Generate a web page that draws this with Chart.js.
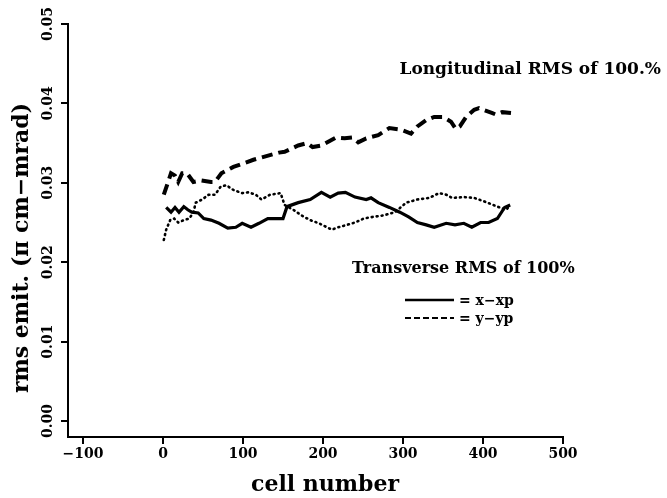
<!DOCTYPE html>
<html>
<head>
<meta charset="utf-8">
<script src="https://cdn.jsdelivr.net/npm/chart.js@4"></script>
<style>
  html, body { margin: 0; padding: 0; background: #fff; }
  #wrap { width: 667px; height: 498px; }
</style>
</head>
<body>
<div id="wrap"><canvas id="c"></canvas></div>
<script>
// longitudinal RMS emittance (dashed)
var cellsL = [1, 10, 15, 19, 24, 30, 38, 47, 60, 65, 73, 88, 102, 113, 127, 145, 152, 169, 180, 187, 198, 216, 227, 237, 244, 254, 269, 283, 297, 310, 318, 329, 339, 350, 360, 366, 371, 379, 389, 395, 400, 411, 416, 424, 435];
var longL = [0.0285, 0.0312, 0.0309, 0.0301, 0.0312, 0.0312, 0.0301, 0.0303, 0.0301, 0.0301, 0.0312, 0.0320, 0.0325, 0.0329, 0.0333, 0.0338, 0.0339, 0.0347, 0.0350, 0.0345, 0.0347, 0.0357, 0.0356, 0.0357, 0.0351, 0.0356, 0.0360, 0.0369, 0.0367, 0.0362, 0.0371, 0.0379, 0.0383, 0.0383, 0.0377, 0.0368, 0.0371, 0.0383, 0.0392, 0.0394, 0.0392, 0.0388, 0.0386, 0.0389, 0.0388];

// transverse x-xp (solid)
var cellsX = [4, 10, 15, 20, 26, 31, 36, 44, 51, 60, 70, 81, 91, 99, 110, 120, 131, 145, 150, 155, 169, 184, 198, 209, 219, 228, 240, 254, 260, 269, 283, 296, 307, 318, 329, 339, 354, 365, 376, 386, 397, 407, 418, 427, 434];
var xxp = [0.0269, 0.0263, 0.0269, 0.0263, 0.0270, 0.0266, 0.0263, 0.0262, 0.0255, 0.0253, 0.0249, 0.0243, 0.0244, 0.0249, 0.0244, 0.0249, 0.0255, 0.0255, 0.0255, 0.0270, 0.0275, 0.0279, 0.0288, 0.0282, 0.0287, 0.0288, 0.0282, 0.0279, 0.0281, 0.0275, 0.0269, 0.0263, 0.0257, 0.0250, 0.0247, 0.0244, 0.0249, 0.0247, 0.0249, 0.0244, 0.0250, 0.0250, 0.0255, 0.0269, 0.0272];

// transverse y-yp (dotted)
var cellsY = [1, 4, 9, 14, 19, 26, 33, 38, 41, 49, 57, 65, 72, 79, 88, 99, 107, 116, 123, 134, 147, 152, 163, 173, 184, 195, 211, 219, 230, 240, 251, 262, 276, 290, 304, 318, 333, 345, 354, 361, 376, 389, 403, 418, 429, 434];
var yyp = [0.0228, 0.0241, 0.0253, 0.0255, 0.0250, 0.0253, 0.0255, 0.0263, 0.0275, 0.0279, 0.0285, 0.0285, 0.0295, 0.0297, 0.0291, 0.0287, 0.0288, 0.0285, 0.0279, 0.0285, 0.0287, 0.0272, 0.0266, 0.0259, 0.0253, 0.0249, 0.0241, 0.0244, 0.0247, 0.0250, 0.0255, 0.0257, 0.0259, 0.0263, 0.0275, 0.0279, 0.0281, 0.0287, 0.0285, 0.0281, 0.0282, 0.0281, 0.0276, 0.0270, 0.0266, 0.0272];

var xTicks = [-100, 0, 100, 200, 300, 400, 500];
var xTickLabels = ['\u2212100', '0', '100', '200', '300', '400', '500'];
var yTicks = [0, 0.01, 0.02, 0.03, 0.04, 0.05];
var yTickLabels = ['0.00', '0.01', '0.02', '0.03', '0.04', '0.05'];

function pts(xs, ys) {
    return xs.map(function (x, i) { return { x: x, y: ys[i] }; });
}

var SERIF = '"DejaVu Serif", "Liberation Serif", serif';

// texts drawn on top: rotated y labels, titles, notes and the little key
var notes = {
    id: 'notes',
    afterDraw: function (chart) {
        var c = chart.ctx, ys = chart.scales.y;
        c.save();
        c.fillStyle = '#000';
        c.strokeStyle = '#000';

        c.font = 'bold 14px ' + SERIF;
        c.textAlign = 'center';
        c.textBaseline = 'alphabetic';
        yTicks.forEach(function (v, i) {
            var py = ys.getPixelForValue(v);
            c.save();
            c.translate(52, py);
            c.rotate(-Math.PI / 2);
            c.fillText(yTickLabels[i], 0, 0);
            c.restore();
        });

        // axis titles
        c.font = 'bold 22px ' + SERIF;
        c.save();
        c.translate(28, 248);
        c.rotate(-Math.PI / 2);
        c.fillText('rms emit. (\u03c0 cm\u2212mrad)', 0, 0);
        c.restore();
        c.fillText('cell number', 325, 491);

        // notes
        c.font = 'bold 17px ' + SERIF;
        c.textAlign = 'right';
        c.fillText('Longitudinal RMS of 100.%', 661, 74);
        c.font = 'bold 16px ' + SERIF;
        c.textAlign = 'left';
        c.fillText('Transverse RMS of 100%', 352, 273);

        c.font = 'bold 14px ' + SERIF;
        c.fillText('= x\u2212xp', 459, 305);
        c.fillText('= y\u2212yp', 459, 323);
        c.lineWidth = 2.5;
        c.beginPath(); c.moveTo(405, 300); c.lineTo(454, 300); c.stroke();
        c.lineWidth = 2;
        c.setLineDash([6, 3]);
        c.beginPath(); c.moveTo(405, 318); c.lineTo(454, 318); c.stroke();
        c.restore();
    }
};

new Chart(document.getElementById('c'), {
    type: 'scatter',
    data: {
        datasets: [{
            label: 'Longitudinal', data: pts(cellsL, longL),
            showLine: true, borderColor: '#000', borderWidth: 4, borderDash: [11, 6],
            pointRadius: 0, tension: 0
        }, {
            label: 'x-xp', data: pts(cellsX, xxp),
            showLine: true, borderColor: '#000', borderWidth: 3.2,
            pointRadius: 0, tension: 0
        }, {
            label: 'y-yp', data: pts(cellsY, yyp),
            showLine: true, borderColor: '#000', borderWidth: 2.6, borderDash: [1, 4], borderCapStyle: 'round',
            pointRadius: 0, tension: 0
        }]
    },
    options: {
        responsive: true, maintainAspectRatio: false, animation: false,
        layout: { padding: { top: 24, right: 104, left: 0, bottom: 0 } },
        plugins: { legend: { display: false }, tooltip: { enabled: false } },
        scales: {
            x: {
                type: 'linear', min: -118.75, max: 500,
                afterFit: function (s) { s.height = 61; },
                afterBuildTicks: function (s) { s.ticks = xTicks.map(function (v) { return { value: v }; }); },
                border: { display: true, color: '#000', width: 2 },
                grid: { drawOnChartArea: false, drawTicks: true, tickLength: 7, color: '#000', lineWidth: 2 },
                ticks: {
                    color: '#000', padding: 2, maxRotation: 0, autoSkip: false,
                    font: { family: SERIF, weight: 'bold', size: 14 },
                    callback: function (v, i) { return xTickLabels[i]; }
                }
            },
            y: {
                type: 'linear', min: -0.002015, max: 0.05,
                afterFit: function (s) { s.width = 68; },
                afterBuildTicks: function (s) { s.ticks = yTicks.map(function (v) { return { value: v }; }); },
                border: { display: true, color: '#000', width: 2 },
                grid: { drawOnChartArea: false, drawTicks: true, tickLength: 7, color: '#000', lineWidth: 2 },
                ticks: { display: false }
            }
        }
    },
    plugins: [notes]
});
</script>
</body>
</html>
